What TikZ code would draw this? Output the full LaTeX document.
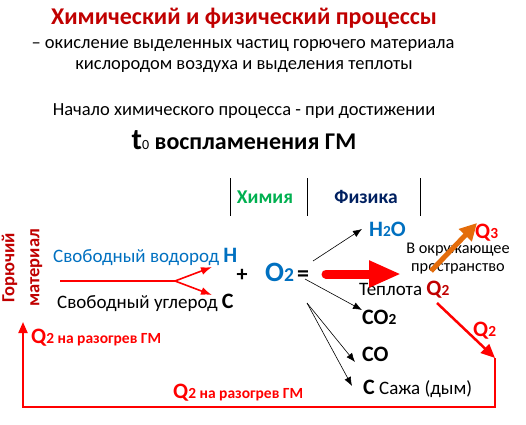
\documentclass[tikz,border=0pt]{standalone}
\usepackage{fontspec}
\setmainfont{Carlito}
\usetikzlibrary{positioning,arrows.meta}
\definecolor{darkred}{HTML}{C00000}
\definecolor{brightred}{HTML}{FF0000}
\definecolor{chemblue}{HTML}{0070C0}
\definecolor{chemgreen}{HTML}{00B050}
\definecolor{physnavy}{HTML}{002060}
\definecolor{heatorange}{HTML}{E46C0A}
\newcommand{\fs}[1]{\fontsize{#1}{#1}\selectfont}
\newcommand{\ix}[1]{\scalebox{0.7}{#1}}
\tikzset{>=latex}
\tikzset{txt/.style={inner sep=0pt,anchor=base},
  lbl/.style={inner sep=0pt,anchor=base west},
  thin arrow/.style={->,line width=0.6pt,>={Latex[length=9pt,width=7pt]}},
  red arrow/.style={->,brightred,line width=1.6pt,>={Latex[length=11pt,width=8pt]}}}

\begin{document}
\begin{tikzpicture}[x=1pt,y=-1pt]
\useasboundingbox (0,0) rectangle (526,424);
% header
\node[txt,font=\fs{24}\bfseries,text=darkred] (title) at (244,24) {Химический и физический процессы};
\node[txt,font=\fs{18.5}] (def1) at (243,48) {– окисление выделенных частиц горючего материала};
\node[txt,font=\fs{18.5}] (def2) at (244,69) {кислородом воздуха и выделения теплоты};
\node[txt,font=\fs{18.5}] (start) at (244,115) {Начало химического процесса - при достижении};
\node[txt,font=\fs{24}\bfseries] (ign) at (244,149) {{\fs{30}t}{\fs{14}\mdseries 0} воспламенения ГМ};

% columns
\draw (230,178) -- (230,216);
\draw (307,178) -- (307,216);
\draw (420,178) -- (420,216);
\node[txt,font=\fs{19.5}\bfseries,text=chemgreen] (chem) at (265,203) {Химия};
\node[txt,font=\fs{19.5}\bfseries,text=physnavy] (phys) at (366,203) {Физика};

% reactants
\node[inner sep=0pt,rotate=90,align=center,font=\fontsize{18.5}{25}\selectfont\bfseries,text=darkred] (fuel) at (22,268) {Горючий\\материал};
\node[lbl,font=\fs{19},text=chemblue] (hyd) at (53,262) {Свободный водород {\fs{22}\bfseries H}};
\node[lbl,font=\fs{19}] (carb) at (57,308) {Свободный углерод {\fs{22}\bfseries C}};
\node[txt,font=\fs{22}\bfseries] (plus) at (242,281) {+};
\node[lbl,font=\fs{28}\bfseries,text=chemblue] (oxy) at (265,281) {O\ix{2}};
\node[txt,font=\fs{24}\bfseries] (eq) at (303,281) {=};

% products
\node[lbl,font=\fs{22}\bfseries,text=chemblue] (water) at (369,236) {H\ix{2}O};
\node[lbl,font=\fs{22}\bfseries] (co2) at (362,324) {CO\ix{2}};
\node[lbl,font=\fs{22}\bfseries] (co) at (362,361) {CO};
\node[lbl,font=\fs{19}] (soot) at (363,394) {{\fs{22}\bfseries C} Сажа (дым)};

% heat
\node[lbl,font=\fs{19}] (heat) at (359,295) {Теплота {\fs{22}\bfseries\color{darkred}Q\ix{2}}};
\node[txt,font=\fs{16.3}] (env1) at (458,253) {В окружающее};
\node[txt,font=\fs{16.3}] (env2) at (458,271) {пространство};
\node[lbl,font=\fs{22}\bfseries,text=brightred] (q3) at (475,238) {Q\ix{3}};
\node[lbl,font=\fs{22}\bfseries,text=brightred] (q2r) at (473,336) {Q\ix{2}};
\node[lbl,font=\fs{15.5}\bfseries,text=brightred] (q2l) at (31,343) {{\fs{22}Q\ix{2}} на разогрев ГМ};
\node[lbl,font=\fs{15.5}\bfseries,text=brightred] (q2b) at (173,398) {{\fs{22}Q\ix{2}} на разогрев ГМ};

% connectors
\coordinate (fuelout) at (60,281);
\coordinate (split) at (175,281);
\coordinate (hin) at (212,267);
\coordinate (cin) at (212,295);
\draw[brightred,line width=1.6pt] (fuelout) -- (split);
\draw[red arrow] (split) -- (hin);
\draw[red arrow] (split) -- (cin);

\coordinate (eqtop) at (313,261);
\coordinate (eqmid) at (305,279);
\coordinate (eqlow) at (307,303);
\coordinate (win) at (362,229);
\coordinate (co2in) at (362,310);
\coordinate (coin) at (355,362);
\coordinate (cout) at (352,386);
\draw[thin arrow] (eqtop) -- (win);
\draw[thin arrow] (eqmid) -- (co2in);
\draw[thin arrow] (eqlow) -- (coin);
\draw[thin arrow] (eqlow) -- (cout);

\coordinate (heatfrom) at (326,274);
\coordinate (heatto) at (401,274);
\draw[brightred,line width=9pt,line cap=round,-{Triangle[length=32pt,width=25pt]}] (heatfrom) -- (heatto);

\coordinate (envfrom) at (431,271);
\coordinate (envto) at (477,223);
\draw[heatorange,line width=5pt,-{Triangle[length=17pt,width=17pt]}] (envfrom) -- (envto);

\coordinate (backfrom) at (437,303);
\coordinate (corner) at (495,358);
\coordinate (loopbl) at (23,407);
\coordinate (loopbr) at (495,407);
\coordinate (loopend) at (23,322);
\draw[brightred,line width=2.5pt,-{Triangle[length=14pt,width=12pt]}] (backfrom) -- (corner);
\draw[brightred,line width=2pt,-{Triangle[length=11pt,width=9pt]}] (corner) -- (loopbr) -- (loopbl) -- (loopend);
\end{tikzpicture}
\end{document}
